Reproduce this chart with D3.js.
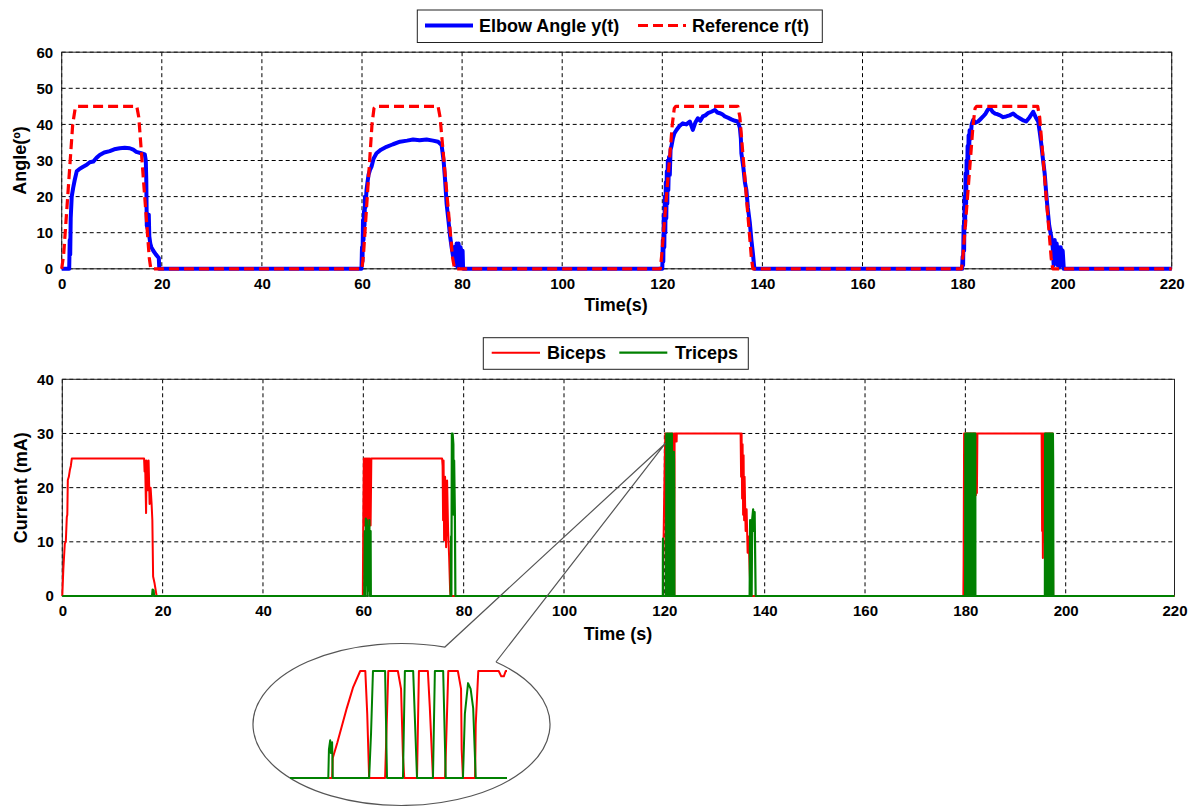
<!DOCTYPE html>
<html>
<head>
<meta charset="utf-8">
<script src="https://cdn.jsdelivr.net/npm/d3@7"></script>
<style>
  body { margin: 0; background: #fff; }
  svg { display: block; font-family: "Liberation Sans", Arial, sans-serif; }
  .tick text { font-size: 15px; font-weight: bold; fill: #000; }
  .lbl { font-size: 18px; font-weight: bold; fill: #000; }
</style>
</head>
<body>
<div id="chart"></div>
<script>
// tick values
var xTicks = [0, 20, 40, 60, 80, 100, 120, 140, 160, 180, 200, 220];
var angleTicks = [0, 10, 20, 30, 40, 50, 60];
var currentTicks = [0, 10, 20, 30, 40];

// elbow angle y(t) [time s, deg]
var elbowAngle = [
  [0,0],[1.5,0],[1.6,8],[1.7,4],[1.8,14],[2.0,20],[2.3,22.5],[2.6,24.6],[3.0,27],[3.5,27.6],[4.2,28.2],
  [5.0,28.8],[5.6,29.5],[6.3,29.7],[7.0,30.8],[7.6,31.5],[8.5,32.2],[9.6,32.6],[10.5,33.1],[11.6,33.4],
  [12.6,33.5],[13.6,33.4],[14.3,33.0],[14.9,32.4],[15.9,32],[16.6,31.7],[16.8,30],[16.9,24.6],[17.0,12],
  [17.2,11],[17.4,15],[17.5,9],[17.7,7],[17.9,6],[18.3,5],[18.8,4],[19.4,3],[19.5,0],
  [59.9,0],[60.0,6],[60.1,2],[60.2,13.5],[60.3,8],[60.4,16],[60.5,12],[60.6,20],[60.7,17],[60.9,21.8],
  [61.1,24],[61.3,26],[61.6,27.4],[61.9,28.3],[62.3,30.5],[62.9,32],[63.8,33],[64.9,33.8],[66.2,34.5],
  [67.6,35.2],[69.0,35.5],[70.2,35.8],[71.5,35.6],[72.9,35.8],[74.2,35.5],[75.2,35.2],[75.9,34.3],
  [76.3,30],[76.6,24.6],[76.9,18.1],[77.3,13],[77.6,9],[77.9,6],[78.2,3.4],[78.5,6],[78.7,1],[78.9,7],
  [79.1,0.5],[79.3,7],[79.5,1],[79.7,6],[79.9,0.5],[80.1,5],[80.2,0],
  [120.0,0],[120.1,8],[120.2,2],[120.3,15],[120.4,6],[120.5,20],[120.6,10],[120.7,24],[120.8,14],
  [120.9,27],[121.0,18],[121.1,30],[121.2,21.8],[121.35,31],[121.5,26],[121.65,33],[121.8,33.8],
  [122.1,36],[122.4,37.5],[122.8,38.4],[123.4,39.5],[124.1,40.3],[124.8,40],[125.5,40.8],[126.1,38.5],
  [126.6,40.5],[127.1,41.7],[127.6,41],[128.1,42.2],[128.6,42.5],[129.1,43.1],[129.8,43.5],[130.5,44],
  [131.0,43.3],[131.5,43.1],[132.0,42.8],[132.5,42.2],[133.2,41.8],[133.8,41.4],[134.5,41],[135.1,40.8],
  [135.5,39],[135.7,36],[135.8,32],[136.0,30],[136.2,28],[136.5,24],[136.8,21.8],[137.1,17],[137.5,12.6],
  [137.8,8],[138.1,4.3],[138.4,0],
  [179.9,0],[180.0,3.4],[180.1,1],[180.2,12],[180.3,5],[180.4,20],[180.5,12],[180.6,26.4],[180.7,18],
  [180.8,30],[180.9,24],[181.0,34],[181.1,28],[181.2,37],[181.3,32],[181.4,38.4],[181.6,36],[181.8,40],
  [182.1,41.2],[182.6,40.5],[183.1,40.8],[183.6,41.5],[184.1,42.2],[184.6,43],[185.0,44],[185.5,44.5],
  [186.0,43.5],[186.5,43],[187.0,42.8],[187.5,42.5],[188.1,42],[188.7,42.2],[189.4,42.5],[190.1,43],
  [190.7,42.3],[191.4,41.7],[192.0,41.2],[192.7,40.8],[193.4,42],[194.1,43.5],[194.6,42],[195.1,40.8],
  [195.4,38],[195.7,34.8],[196.0,31],[196.4,26.4],[196.7,21],[197.0,16.3],[197.3,12],[197.7,9],[198.0,6],
  [198.2,1],[198.4,8],[198.6,2],[198.8,7],[199.0,1],[199.2,6],[199.4,0.5],[199.6,6],[199.8,1],[200.0,5],
  [200.2,0],[220,0]
];

// reference r(t)
var reference = [
  [0,0],[0.4,4],[2.2,40],[2.7,44.5],[3.0,45],[15.0,45],[15.4,42],[17.5,3],[17.8,0],
  [60.0,0],[60.3,4],[62.0,40],[62.4,44.5],[62.7,45],[75.2,45],[75.6,42],[78.1,3],[78.5,0],
  [119.6,0],[119.9,4],[122.0,40],[122.4,44.5],[122.7,45],[135.1,45],[135.5,42],[137.8,3],[138.1,0],
  [179.8,0],[180.1,4],[182.1,40],[182.5,44.5],[182.8,45],[195.0,45],[195.4,42],[197.7,3],[198.0,0],
  [220,0]
];

// zoomed detail around t = 120 s (shown in the ellipse)
var zoomBiceps = [
  [119.10,0],[119.76,0],[119.77,5.6],[119.84,9.8],[119.99,19.6],[120.09,25.5],[120.20,30],[120.28,30],
  [120.31,18],[120.34,0],[120.59,0],[120.64,30],[120.79,30],[120.84,25],[120.87,6],[120.89,0],
  [121.09,0],[121.12,30],[121.26,30],[121.29,20],[121.34,0],[121.53,0],[121.58,30],[121.73,30],
  [121.78,25],[121.79,8],[121.81,0],[122.00,0],[122.01,15],[122.05,30],[122.37,30],[122.41,28.5],
  [122.45,28.5],[122.48,30],[122.50,30]
];
var zoomTriceps = [
  [119.10,0],[119.70,0],[119.71,8],[119.73,10.6],[119.74,7],[119.76,10],[119.77,0],[120.34,0],
  [120.37,12.6],[120.40,30],[120.59,30],[120.62,0],[120.87,0],[120.90,30],[121.03,30],[121.09,0],
  [121.34,0],[121.37,30],[121.50,30],[121.54,0],[121.81,0],[121.84,18],[121.89,26.6],[121.93,25],
  [121.97,19.6],[122.01,0],[122.50,0]
];

// biceps current [time s, mA], outside the zoomed window
var bicepsA = [
  [0,0],[0.2,4.8],[0.5,9.7],[0.7,10],[0.9,14.6],[1.0,15],[1.1,21.4],[1.3,22],[1.5,23.2],[1.7,24],
  [1.9,25.4],[16.3,25.4],[16.4,23],[16.5,25],[16.7,15.3],[16.8,25],[17.0,19.5],[17.2,25],[17.4,17],
  [17.6,20],[17.8,17],[17.95,14],[18.1,3.6],[18.4,2.3],[18.8,0],
  [59.9,0],[60.0,15.3],[60.1,25.4],[60.2,13],[60.3,25.4],[60.4,13],[60.5,25.4],[60.6,14],[60.7,25.4],
  [60.8,13],[60.9,25.4],[61.0,13],[61.1,25.4],[61.2,14],[61.3,25.4],[61.45,13],[61.6,25.4],[75.7,25.4],
  [75.8,24],[75.9,14],[76.0,25],[76.1,10.3],[76.3,22],[76.5,9],[76.7,21.3],[76.9,12],[77.1,7.3],
  [77.3,1],[77.4,0]
];
var bicepsB = [
  [122.6,30],[135.2,30],[135.3,22],[135.4,30],[135.5,18],[135.6,28],[135.7,15],[135.8,26],[135.9,14],
  [136.0,22],[136.2,12],[136.4,16],[136.6,8],[136.8,11],[137.0,5],[137.2,0],
  [179.6,0],[179.65,5.7],[179.75,30],[180.3,30],[180.32,0],[180.4,30],[181.0,30],[181.02,0],[181.1,30],
  [181.6,30],[181.62,0],[181.7,30],[182.05,30],[182.1,18.6],[182.2,30],[182.3,19],[182.4,30],[195.2,30],
  [195.3,12],[195.35,30],[195.45,7],[195.55,30],[195.65,10],[195.75,30],[195.85,14],[195.9,30],
  [197.4,30],[197.5,0],[220,0]
];

// triceps current, outside the zoomed window
var tricepsA = [
  [0,0],[17.9,0],[18.0,1.2],[18.2,1],[18.3,0],
  [60.2,0],[60.3,12],[60.35,0],[60.5,14.3],[60.6,2],[60.7,14],[60.85,0],[61.0,13],[61.1,1],[61.2,14],
  [61.35,0],[61.45,12],[61.5,0],
  [77.4,0],[77.5,11],[77.55,0],[77.65,30],[77.8,30],[77.95,28],[78.0,15],[78.1,25],[78.25,15],[78.35,0]
];
var tricepsB = [
  [137.0,0],[137.1,14],[137.2,0],[137.4,0],[137.5,14],[137.7,16],[137.85,12],[138.0,15.5],[138.2,0],
  [179.95,0],[180.0,30],[180.1,30],[180.12,0],[180.2,0],[180.22,30],[180.32,30],[180.34,0],[180.42,0],
  [180.44,30],[180.56,30],[180.58,0],[180.66,0],[180.68,30],[180.8,30],[180.82,0],[180.9,0],[180.92,30],
  [181.04,30],[181.06,0],[181.14,0],[181.16,30],[181.28,30],[181.3,0],[181.38,0],[181.4,30],[181.52,30],
  [181.54,0],[181.62,0],[181.64,30],[181.76,30],[181.78,0],[181.86,0],[181.88,30],[181.98,30],[182.0,0],
  [195.85,0],[195.9,30],[196.0,30],[196.02,0],[196.1,0],[196.12,30],[196.24,30],[196.26,0],[196.34,0],
  [196.36,30],[196.48,30],[196.5,0],[196.58,0],[196.6,30],[196.72,30],[196.74,0],[196.82,0],[196.84,30],
  [196.96,30],[196.98,0],[197.06,0],[197.08,30],[197.2,30],[197.22,0],[197.3,0],[197.32,30],[197.45,30],
  [197.5,24.6],[197.55,0],[220,0]
];

var biceps = bicepsA.concat(zoomBiceps, bicepsB);
var triceps = tricepsA.concat(zoomTriceps, tricepsB);

var W = 1196, H = 808;
var svg = d3.select("#chart").append("svg")
    .attr("width", W)
    .attr("height", H);

// top axes: 0-200 and 200-220 are not equally wide in the picture
var xTop = d3.scaleLinear().domain([0, 200, 220]).range([61.7, 1062.7, 1171.7]);
var yTop = d3.scaleLinear().domain([0, 60]).range([268.8, 52.2]);
var xBot = d3.scaleLinear().domain([0, 200, 220]).range([62.3, 1065.7, 1174.5]);
var yBot = d3.scaleLinear().domain([0, 40]).range([596, 379.3]);

function drawFrame(x, y, yTicks) {
    var g = svg.append("g");
    var x0 = x(0), x1 = x(220), y0 = y.range()[0], y1 = y.range()[1];
    g.append("rect")
        .attr("x", x0).attr("y", y1)
        .attr("width", x1 - x0).attr("height", y0 - y1)
        .attr("fill", "#fff");
    // grid
    g.selectAll(".vg").data(xTicks).enter().append("line")
        .attr("x1", function (d) { return x(d); })
        .attr("x2", function (d) { return x(d); })
        .attr("y1", y1).attr("y2", y0)
        .attr("stroke", "#000").attr("stroke-width", 1)
        .attr("stroke-dasharray", "4,3");
    g.selectAll(".hg").data(yTicks).enter().append("line")
        .attr("x1", x0).attr("x2", x1)
        .attr("y1", function (d) { return y(d); })
        .attr("y2", function (d) { return y(d); })
        .attr("stroke", "#000").attr("stroke-width", 1)
        .attr("stroke-dasharray", "4,3");
    g.append("rect")
        .attr("x", x0).attr("y", y1)
        .attr("width", x1 - x0).attr("height", y0 - y1)
        .attr("fill", "none").attr("stroke", "#222").attr("stroke-width", 1);

    var ax = svg.append("g")
        .attr("transform", "translate(0," + y0 + ")")
        .call(d3.axisBottom(x).tickValues(xTicks).tickSize(0).tickPadding(9.5));
    ax.select(".domain").remove();
    var ay = svg.append("g")
        .attr("transform", "translate(" + x0 + ",0)")
        .call(d3.axisLeft(y).tickValues(yTicks).tickSize(0).tickPadding(8.5));
    ay.select(".domain").remove();
}

function drawLine(x, y, data, color, width, dash) {
    var line = d3.line()
        .x(function (d) { return x(d[0]); })
        .y(function (d) { return y(d[1]); });
    var p = svg.append("path")
        .datum(data)
        .attr("fill", "none")
        .attr("stroke", color)
        .attr("stroke-width", width)
        .attr("stroke-linejoin", "round")
        .attr("d", line);
    if (dash) p.attr("stroke-dasharray", dash);
    return p;
}

// ---- top plot
drawFrame(xTop, yTop, angleTicks);
drawLine(xTop, yTop, elbowAngle, "#0000ff", 4);
drawLine(xTop, yTop, reference, "#ff0000", 3.2, "10,5");

svg.append("text").attr("class", "lbl")
    .attr("x", 616).attr("y", 311)
    .attr("text-anchor", "middle")
    .text("Time(s)");
svg.append("text").attr("class", "lbl")
    .attr("transform", "translate(26," + (yTop(30)) + ") rotate(-90)")
    .attr("text-anchor", "middle")
    .text("Angle(º)");

// legend top
var lg1 = svg.append("g");
lg1.append("rect").attr("x", 417.3).attr("y", 10).attr("width", 405).attr("height", 32.5)
    .attr("fill", "#fff").attr("stroke", "#222");
lg1.append("line").attr("x1", 425).attr("x2", 473).attr("y1", 25.5).attr("y2", 25.5)
    .attr("stroke", "#0000ff").attr("stroke-width", 4);
lg1.append("text").attr("class", "lbl").attr("x", 479).attr("y", 32).text("Elbow Angle y(t)");
lg1.append("line").attr("x1", 638).attr("x2", 686).attr("y1", 25.5).attr("y2", 25.5)
    .attr("stroke", "#ff0000").attr("stroke-width", 3.2).attr("stroke-dasharray", "10,5");
lg1.append("text").attr("class", "lbl").attr("x", 692).attr("y", 32).text("Reference r(t)");

// ---- bottom plot
drawFrame(xBot, yBot, currentTicks);
drawLine(xBot, yBot, biceps, "#ff0000", 2);
drawLine(xBot, yBot, triceps, "#008000", 2.2);

svg.append("text").attr("class", "lbl")
    .attr("x", 618).attr("y", 640)
    .attr("text-anchor", "middle")
    .text("Time (s)");
svg.append("text").attr("class", "lbl")
    .attr("transform", "translate(27," + (yBot(20)) + ") rotate(-90)")
    .attr("text-anchor", "middle")
    .text("Current (mA)");

var lg2 = svg.append("g");
lg2.append("rect").attr("x", 483.3).attr("y", 337.7).attr("width", 265).attr("height", 31.6)
    .attr("fill", "#fff").attr("stroke", "#222");
lg2.append("line").attr("x1", 491.7).attr("x2", 540).attr("y1", 352.7).attr("y2", 352.7)
    .attr("stroke", "#ff0000").attr("stroke-width", 2);
lg2.append("text").attr("class", "lbl").attr("x", 547).attr("y", 359).text("Biceps");
lg2.append("line").attr("x1", 619.3).attr("x2", 667.3).attr("y1", 352.7).attr("y2", 352.7)
    .attr("stroke", "#008000").attr("stroke-width", 2.2);
lg2.append("text").attr("class", "lbl").attr("x", 675).attr("y", 359).text("Triceps");

// ---- zoom callout
var cx = 401.5, cy = 724.5, rx = 148.5, ry = 81;
var apex = [xBot(120) + 1, yBot(30) + 10];
function ell(deg) {
    var a = deg * Math.PI / 180;
    return [cx + rx * Math.cos(a), cy - ry * Math.sin(a)];
}
var pa = ell(73), pb = ell(50.5);
svg.append("path")
    .attr("d", "M" + pb[0] + "," + pb[1] +
        " A" + rx + "," + ry + " 0 1 1 " + pa[0] + "," + pa[1] +
        " L" + apex[0] + "," + apex[1] +
        " L" + pb[0] + "," + pb[1])
    .attr("fill", "none")
    .attr("stroke", "#555")
    .attr("stroke-width", 1.2);

var xZoom = d3.scaleLinear().domain([119.1, 122.5]).range([290, 507]);
var yZoom = d3.scaleLinear().domain([0, 30]).range([778, 671]);
drawLine(xZoom, yZoom, zoomBiceps, "#ff0000", 2);
drawLine(xZoom, yZoom, zoomTriceps, "#008000", 2);
</script>
</body>
</html>
